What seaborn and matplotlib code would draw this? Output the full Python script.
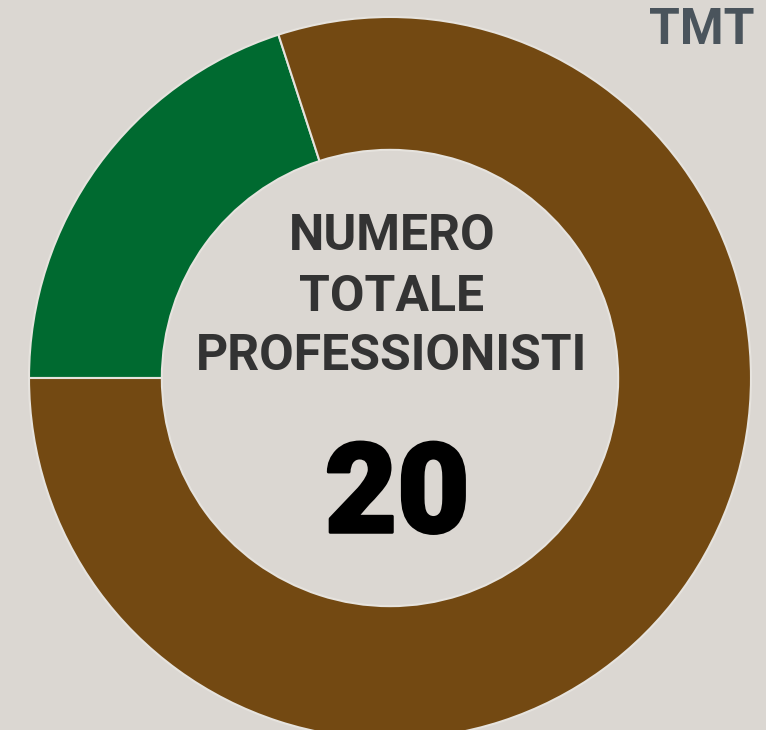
import matplotlib
matplotlib.use("Agg")
import matplotlib.pyplot as plt
import matplotlib.patheffects as pe
import seaborn as sns

# data
categories = ["Categoria A", "Categoria B"]
values = [4, 16]
colors = ["#006a30", "#734912"]

center_lines = ["NUMERO", "TOTALE", "PROFESSIONISTI"]
corner_label = "TMT"

BG = "#dbd7d2"

sns.set_theme(style="white", rc={"figure.facecolor": BG, "axes.facecolor": BG})
plt.rcParams["font.family"] = ["Roboto", "DejaVu Sans"]

fig = plt.figure(figsize=(7.66, 7.30), dpi=100)
ax = fig.add_axes([0, 0, 1, 1])

ax.pie(values, labels=None, colors=colors, startangle=180, counterclock=False,
       radius=1.0, wedgeprops=dict(width=0.368, edgecolor="#e6e3de", linewidth=1.5))

# pixel frame: centre at (390, 378), outer radius 361 px
ax.set_xlim(-390 / 361, (766 - 390) / 361)
ax.set_ylim(-(730 - 378) / 361, 378 / 361)
ax.set_aspect("auto")
ax.axis("off")

line_y = [0.392, 0.222, 0.059]
for txt, y in zip(center_lines, line_y):
    ax.text(0.005, y, txt, ha="center", va="center", fontsize=36,
            fontweight="bold", color="#333333")

# big total, thickened to mimic the heavy weight
ax.text(0.02, -0.333, str(sum(values)), ha="center", va="center", fontsize=90,
        fontweight="black", color="#000000",
        path_effects=[pe.withStroke(linewidth=2.2, foreground="#000000")])

fig.text(755 / 766, 1 - 30 / 730, corner_label, ha="right", va="center",
         fontsize=36, fontweight="bold", color="#4a545c")

plt.savefig("out.png", dpi=100, facecolor=BG)
